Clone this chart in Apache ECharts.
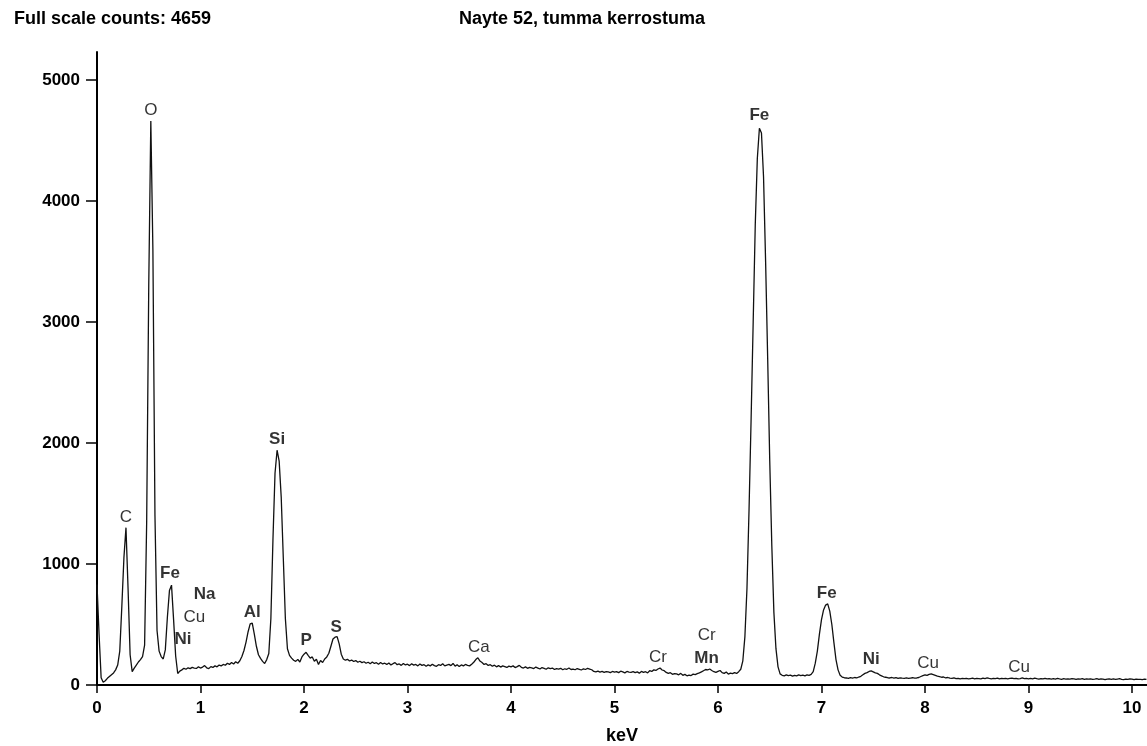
<!DOCTYPE html>
<html>
<head>
<meta charset="utf-8">
<script src="https://cdn.jsdelivr.net/npm/echarts@6/dist/echarts.min.js"></script>
<style>
  html, body { margin: 0; padding: 0; background: #fff; }
  #spectrum { width: 1147px; height: 746px; }
</style>
</head>
<body>
<div id="spectrum"></div>
<script>
// EDS spectrum, channel width 0.02 keV, counts
var channelStep = 0.02;
var counts = [
  830, 420, 60, 22, 35, 55, 70, 85, 100, 125,          // 0.00
  165, 280, 650, 1050, 1300, 800, 250, 110, 140, 165,  // 0.20
  190, 210, 235, 330, 1350, 3300, 4659, 3600, 1400, 450, // 0.40
  280, 235, 215, 290, 560, 780, 825, 540, 240, 95,     // 0.60
  115, 125, 138, 130, 142, 135, 146, 140, 137, 150,    // 0.80
  140, 148, 160, 142, 135, 152, 145, 158, 150, 165,    // 1.00
  158, 170, 163, 180, 170, 186, 174, 192, 180, 200,    // 1.20
  235, 285, 355, 440, 505, 512, 420, 320, 250, 220,    // 1.40
  195, 178, 210, 260, 550, 1200, 1750, 1940, 1850, 1550, // 1.60
  1050, 550, 300, 245, 222, 205, 195, 212, 190, 232,   // 1.80
  255, 270, 245, 222, 232, 196, 212, 170, 202, 186,    // 2.00
  215, 232, 262, 320, 380, 395, 400, 340, 255, 215,    // 2.20
  205, 212, 198, 206, 194, 202, 188, 196, 185, 192,    // 2.40
  180, 188, 176, 190, 178, 184, 172, 186, 174, 180,    // 2.60
  170, 182, 166, 176, 185, 168, 174, 162, 178, 166,    // 2.80
  172, 160, 175, 164, 170, 158, 174, 162, 168, 155,    // 3.00
  166, 158, 172, 160, 154, 168, 162, 176, 158, 165,    // 3.20
  170, 160, 178, 156, 168, 152, 166, 158, 170, 162,    // 3.40
  158, 172, 188, 210, 225, 198, 186, 170, 176, 162,    // 3.60
  168, 155, 164, 150, 160, 148, 158, 152, 145, 156,    // 3.80
  150, 158, 144, 152, 162, 146, 140, 150, 138, 146,    // 4.00
  142, 136, 148, 140, 132, 144, 138, 130, 142, 136,    // 4.20
  140, 128, 136, 132, 138, 126, 134, 130, 140, 128,    // 4.40
  132, 126, 136, 130, 124, 134, 128, 138, 132, 126,    // 4.60
  112, 108, 114, 106, 112, 104, 110, 108, 102, 112,    // 4.80
  106, 110, 102, 114, 108, 100, 112, 106, 104, 110,    // 5.00
  102, 108, 98, 112, 104, 110, 100, 118, 112, 125,     // 5.20
  120, 132, 140, 124, 118, 104, 96, 102, 88, 94,       // 5.40
  92, 84, 96, 80, 88, 76, 82, 78, 90, 86,              // 5.60
  94, 100, 108, 118, 128, 124, 132, 120, 110, 104,     // 5.80
  112, 120, 102, 96, 108, 90, 98, 94, 102, 96,         // 6.00
  110, 130, 200, 400, 800, 1450, 2200, 3000, 3800, 4350, // 6.20
  4600, 4560, 4200, 3500, 2700, 1850, 1150, 600, 300, 150, // 6.40
  92, 80, 76, 84, 78, 82, 74, 80, 76, 84,              // 6.60
  78, 82, 76, 84, 80, 88, 110, 180, 280, 420,          // 6.80
  540, 620, 660, 670, 610, 500, 350, 210, 125, 80,     // 7.00
  66, 60, 58, 54, 60, 56, 62, 58, 66, 72,              // 7.20
  84, 96, 102, 112, 116, 108, 100, 96, 84, 76,         // 7.40
  68, 64, 60, 58, 62, 56, 60, 54, 58, 56,              // 7.60
  55, 58, 54, 57, 60, 56, 58, 62, 70, 78,              // 7.80
  84, 80, 88, 92, 86, 80, 74, 70, 64, 66,              // 8.00
  58, 62, 56, 54, 58, 52, 55, 50, 54, 52,              // 8.20
  55, 50, 53, 56, 51, 54, 52, 50, 56, 53,              // 8.40
  58, 54, 51, 55, 52, 57, 50, 54, 52, 55,              // 8.60
  51, 54, 56, 52, 55, 50, 53, 58, 52, 54,              // 8.80
  50, 54, 51, 56, 52, 49, 53, 50, 55, 51,              // 9.00
  53, 49, 52, 48, 54, 50, 47, 52, 49, 51,              // 9.20
  48, 52, 50, 46, 51, 49, 53, 47, 50, 48,              // 9.40
  51, 47, 49, 52, 46, 50, 48, 45, 49, 51,              // 9.60
  47, 50, 46, 49, 52, 47, 45, 49, 46, 50,              // 9.80
  48, 45, 49, 46, 47, 44, 48, 46                       // 10.00
];

// peak labels: element, keV, counts where the label sits, bold?
var peakNames  = ['O', 'C', 'Fe', 'Na', 'Cu', 'Ni', 'Al', 'Si', 'P', 'S', 'Ca', 'Cr', 'Cr', 'Mn', 'Fe', 'Fe', 'Ni', 'Cu', 'Cu'];
var peakKeV    = [0.52, 0.28, 0.705, 1.04, 0.94, 0.83, 1.50, 1.74, 2.02, 2.31, 3.69, 5.42, 5.89, 5.89, 6.40, 7.05, 7.48, 8.03, 8.91];
var peakCounts = [4752, 1388, 925, 752, 562, 380, 603, 2033, 372, 479, 314, 231, 413, 223, 4711, 760, 215, 182, 149];
var peakBold   = [false, false, true, true, false, true, true, true, true, true, false, false, false, true, true, true, true, false, false];

var xTicks = [0, 1, 2, 3, 4, 5, 6, 7, 8, 9, 10];
var yTicks = [0, 1000, 2000, 3000, 4000, 5000];

var spectrum = counts.map(function (c, i) {
  return [+(i * channelStep).toFixed(2), c];
});
var labelData = peakNames.map(function (n, i) {
  return {
    value: [peakKeV[i], peakCounts[i]],
    name: n,
    label: { fontWeight: peakBold[i] ? 'bold' : 'normal' }
  };
});

var chart = echarts.init(document.getElementById('spectrum'));
var axisFont = { fontFamily: 'Liberation Sans', fontWeight: 'bold', fontSize: 17, color: '#000' };
var titleFont = { fontFamily: 'Liberation Sans', fontWeight: 'bold', fontSize: 18, color: '#000' };

chart.setOption({
  animation: false,
  backgroundColor: '#fff',
  title: [{
    text: 'Full scale counts: 4659',
    left: 9, top: 5,
    textStyle: titleFont
  }, {
    text: 'Nayte 52, tumma kerrostuma',
    left: 454, top: 5,
    textStyle: titleFont
  }],
  grid: { left: 97, right: 0, top: 52, bottom: 61, containLabel: false, outerBoundsMode: 'none' },
  xAxis: {
    type: 'value',
    min: 0, max: 10.145,
    name: 'keV',
    nameLocation: 'middle',
    nameGap: 42,
    nameTextStyle: titleFont,
    splitLine: { show: false },
    axisLine: { onZero: false, lineStyle: { color: '#000', width: 2 } },
    axisTick: { length: 8, customValues: xTicks, lineStyle: { color: '#000', width: 1.5 } },
    axisLabel: Object.assign({ margin: 15, customValues: xTicks }, axisFont)
  },
  yAxis: {
    type: 'value',
    min: 0, max: 5230,
    splitLine: { show: false },
    axisLine: { show: true, lineStyle: { color: '#000', width: 2 } },
    axisTick: { show: true, length: 11, customValues: yTicks, lineStyle: { color: '#000', width: 1.5 } },
    axisLabel: Object.assign({
      margin: 17,
      customValues: yTicks,
      formatter: function (v) { return String(v); }
    }, axisFont)
  },
  series: [{
    type: 'line',
    data: spectrum,
    showSymbol: false,
    symbol: 'none',
    lineStyle: { color: '#111', width: 1.3 },
    z: 3
  }, {
    type: 'scatter',
    data: labelData,
    symbolSize: 0,
    silent: true,
    label: {
      show: true,
      position: 'inside',
      formatter: '{b}',
      fontFamily: 'Liberation Sans',
      fontSize: 17,
      color: '#000'
    },
    z: 4
  }]
});
</script>
</body>
</html>
